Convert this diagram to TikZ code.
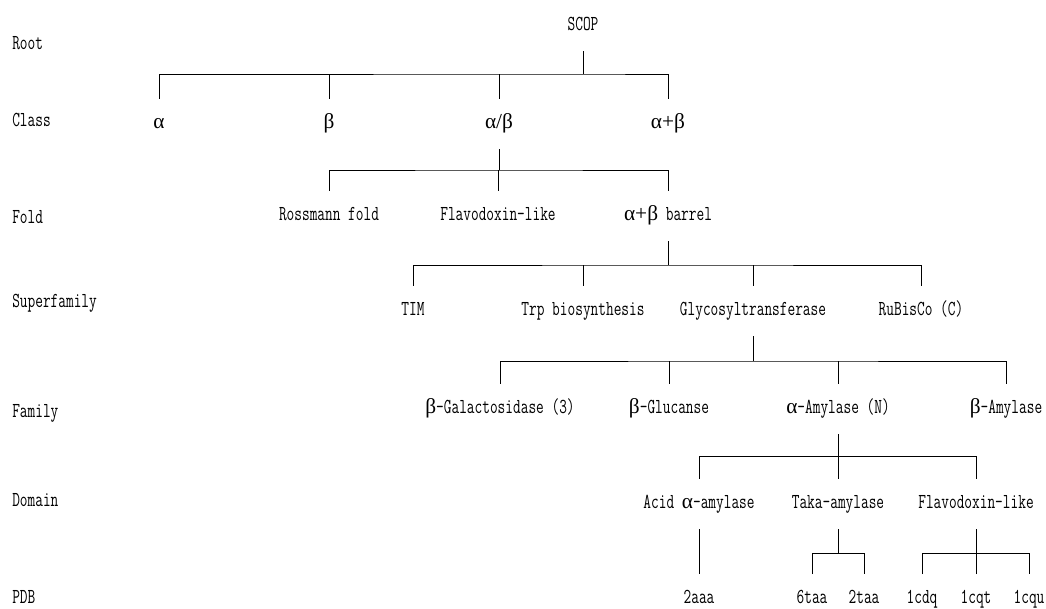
\documentclass[tikz,border=0pt]{standalone}
\usepackage{fontspec}
\newfontfamily\tmono[FakeStretch=0.70]{Latin Modern Mono}
\newfontfamily\grk{Liberation Serif}
\newcommand{\galp}{{\grk α}}
\newcommand{\gbet}{{\grk β}}
\begin{document}
\begin{tikzpicture}[x=0.75pt,y=-0.75pt,
  every node/.style={font=\tmono\fontsize{16}{18}\selectfont, inner sep=0pt},
  lvl/.style={anchor=west},
  tn/.style={minimum height=37.5pt, text height=10pt, text depth=3pt},
  leaf/.style={text height=10pt, text depth=3pt},
  conn/.style={line width=0.75pt, black},
  toleaf/.style={shorten >=12pt},
  toleaves/.style={shorten <=12pt, shorten >=12pt}]
\useasboundingbox (0,0) rectangle (1046,608);

% level labels
\node[lvl] (lRoot)  at (12,43)  {Root};
\node[lvl] (lClass) at (12,120) {Class};
\node[lvl] (lFold)  at (12,217) {Fold};
\node[lvl] (lSF)    at (12,303) {Superfamily};
\node[lvl] (lFam)   at (12,413) {Family};
\node[lvl] (lDom)   at (12,500) {Domain};
\node[lvl] (lPDB)   at (12,597) {PDB};

% root
\node[tn] (scop) at (583,26) {SCOP};
% class
\node[tn] (cA)   at (159,124) {\galp};
\node[tn] (cB)   at (329,124) {\gbet};
\node[tn] (cAB)  at (499,124) {{\grk α/β}};
\node[tn] (cApB) at (668,124) {{\grk α+β}};
% fold
\node[tn] (fR)  at (329,216) {Rossmann fold};
\node[tn] (fF)  at (498,216) {Flavodoxin-like};
\node[tn] (fAB) at (668,216) {{\grk α+β} barrel};
% superfamily
\node[tn] (sT)   at (413,311) {TIM};
\node[tn] (sTrp) at (583,311) {Trp biosynthesis};
\node[tn] (sG)   at (753,311) {Glycosyltransferase};
\node[tn] (sR)   at (921,311) {RuBisCo (C)};
% family
\node[tn] (faG)  at (500,409) {\gbet-Galactosidase (3)};
\node[tn] (faGl) at (669,409) {\gbet-Glucanse};
\node[tn] (faA)  at (838,409) {\galp-Amylase (N)};
\node[tn] (faB)  at (1006,409) {\gbet-Amylase};
% domain
\node[tn] (dA) at (699,504) {Acid \galp-amylase};
\node[tn] (dT) at (838,504) {Taka-amylase};
\node[tn] (dF) at (976,504) {Flavodoxin-like};
% pdb
\node[leaf] (p1) at (699,599)  {2aaa};
\node[leaf] (p2) at (812,599)  {6taa};
\node[leaf] (p3) at (864,599)  {2taa};
\node[leaf] (p4) at (922,599)  {1cdq};
\node[leaf] (p5) at (976,599)  {1cqt};
\node[leaf] (p6) at (1029,599) {1cqu};

% junctions
\coordinate (jRoot)  at (583,74);
\coordinate (jClass) at (499,170);
\coordinate (jFold)  at (668,265);
\coordinate (jSF)    at (753,361);
\coordinate (jFam)   at (838,456);
\coordinate (jTaka)  at (838,553);
\coordinate (jFlav)  at (976,553);

% root -> class
\draw[conn] (scop.south) -- (jRoot);
\draw[conn] (cA.north) |- (jRoot) -| (cApB.north);
\draw[conn] (cB.north) -- (cB.north |- jRoot);
\draw[conn] (cAB.north) -- (cAB.north |- jRoot);
% class -> fold
\draw[conn] (cAB.south) -- (jClass);
\draw[conn] (fR.north) |- (jClass) -| (fAB.north);
\draw[conn] (fF.north) -- (fF.north |- jClass);
% fold -> superfamily
\draw[conn] (fAB.south) -- (jFold);
\draw[conn] (sT.north) |- (jFold) -| (sR.north);
\draw[conn] (sTrp.north) -- (sTrp.north |- jFold);
\draw[conn] (sG.north) -- (sG.north |- jFold);
% superfamily -> family
\draw[conn] (sG.south) -- (jSF);
\draw[conn] (faG.north) |- (jSF) -| (faB.north);
\draw[conn] (faGl.north) -- (faGl.north |- jSF);
\draw[conn] (faA.north) -- (faA.north |- jSF);
% family -> domain
\draw[conn] (faA.south) -- (jFam);
\draw[conn] (dA.north) |- (jFam) -| (dF.north);
\draw[conn] (dT.north) -- (dT.north |- jFam);
% domain -> pdb
\draw[conn, toleaf] (dA.south) -- (p1.north);
\draw[conn] (dT.south) -- (jTaka);
\draw[conn, toleaves] (p2.north) |- (jTaka) -| (p3.north);
\draw[conn] (dF.south) -- (jFlav);
\draw[conn, toleaves] (p4.north) |- (jFlav) -| (p6.north);
\draw[conn, shorten <=12pt] (p5.north) -- (p5.north |- jFlav);
\end{tikzpicture}
\end{document}
